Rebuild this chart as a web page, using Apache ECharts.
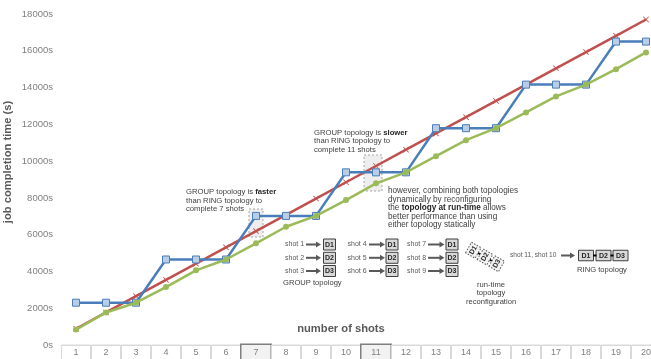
<!DOCTYPE html>
<html>
<head>
<meta charset="utf-8">
<script src="https://cdn.jsdelivr.net/npm/echarts@6/dist/echarts.min.js"></script>
<style>
  html, body { margin: 0; padding: 0; background: #fff; }
  #chart { width: 651px; height: 359px; }
</style>
</head>
<body>
<div id="chart"></div>
<script>
// shots on the x axis, two of them boxed
const shots = ['1', '2', '3', '4', '5', '6', '7', '8', '9', '10', '11', '12', '13', '14', '15', '16', '17', '18', '19', '20']
const boxedShots = ['7', '11']
// job completion time (s)
const groupTimes = [2300, 2300, 2300, 4650, 4650, 4650, 7020, 7020, 7020, 9390, 9390, 9390, 11790, 11790, 11790, 14160, 14160, 14160, 16500, 16500]
const ringTimes = [885, 1770, 2655, 3540, 4425, 5310, 6195, 7080, 7965, 8850, 9735, 10620, 11505, 12390, 13275, 14160, 15045, 15930, 16815, 17700]
const mixedTimes = [840, 1770, 2300, 3150, 4060, 4650, 5530, 6430, 7020, 7880, 8790, 9390, 10270, 11140, 11790, 12650, 13520, 14160, 15000, 15910]

const FONT = 'Liberation Sans'
const chart = echarts.init(document.getElementById('chart'))

function txt(x, y, text, extra) {
  return {
    type: 'text', x: x, y: y, z: 10,
    style: Object.assign({
      text: text, fill: '#404040', fontFamily: FONT, fontSize: 9,
      lineHeight: 9, align: 'left', verticalAlign: 'middle'
    }, extra || {})
  }
}

function node(cx, cy, name, w, h) {
  w = w || 12
  h = h || 11
  return [
    { type: 'rect', z: 10, shape: { x: cx - w / 2, y: cy - h / 2, width: w, height: h },
      style: { fill: '#d9d9d9', stroke: '#3f3f3f', lineWidth: 1 } },
    txt(cx, cy + 0.5, name, { align: 'center', fontSize: 7, fontWeight: 'bold', fill: '#262626' })
  ]
}

function arrow(x1, x2, y) {
  return [
    { type: 'line', z: 10, shape: { x1: x1, y1: y, x2: x2 - 4, y2: y },
      style: { stroke: '#595959', lineWidth: 2 } },
    { type: 'polygon', z: 10, shape: { points: [[x2 - 5, y - 3], [x2, y], [x2 - 5, y + 3]] },
      style: { fill: '#595959' } }
  ]
}

let graphics = []

// dashed highlight boxes
graphics.push({ type: 'rect', z: 1, shape: { x: 249, y: 209, width: 14, height: 28 },
  style: { fill: '#eeeeee', stroke: '#a6a6a6', lineWidth: 1, lineDash: [2, 2] } })
graphics.push({ type: 'rect', z: 1, shape: { x: 364, y: 155, width: 18, height: 36 },
  style: { fill: '#eeeeee', stroke: '#a6a6a6', lineWidth: 1, lineDash: [2, 2] } })

// annotations
const boldSmall = { b: { fontWeight: 'bold', fontFamily: FONT, fontSize: 7.7, fill: '#262626' } }
const boldMid = { b: { fontWeight: 'bold', fontFamily: FONT, fontSize: 8.2, fill: '#262626' } }
graphics.push(txt(186, 200.5, 'GROUP topology is {b|faster}\nthan RING topology to\ncomplete 7 shots', { rich: boldSmall, fontSize: 7.7, lineHeight: 8.8 }))
graphics.push(txt(314, 141, 'GROUP topology is {b|slower}\nthan RING topology to\ncomplete 11 shots', { rich: boldSmall, fontSize: 7.7, lineHeight: 8.6 }))
graphics.push(txt(388, 208, 'however, combining both topologies\ndynamically by reconfiguring\nthe {b|topology at run-time} allows\nbetter performance than using\neither topology statically', { rich: boldMid, fontSize: 8.2, lineHeight: 8.6 }))

// GROUP topology columns
const rowsY = [244.5, 257.8, 271]
const cols = [
  { tx: 285, a1: 306, a2: 321, bx: 329.5, shots: ['shot 1', 'shot 2', 'shot 3'] },
  { tx: 347.5, a1: 369, a2: 385, bx: 392, shots: ['shot 4', 'shot 5', 'shot 6'] },
  { tx: 407, a1: 428, a2: 444.5, bx: 452, shots: ['shot 7', 'shot 8', 'shot 9'] }
]
cols.forEach(function (c) {
  c.shots.forEach(function (s, i) {
    graphics.push(txt(c.tx, rowsY[i], s, { fontSize: 7, fill: '#595959' }))
    graphics = graphics.concat(arrow(c.a1, c.a2, rowsY[i]))
    graphics = graphics.concat(node(c.bx, rowsY[i], 'D' + (i + 1)))
  })
})
graphics.push(txt(283, 282.5, 'GROUP topology', { fontSize: 7.6, fill: '#404040' }))

// run-time reconfiguration (rotated chain)
const rotKids = []
;['D1', 'D2', 'D3'].forEach(function (d, i) {
  const cy = -13.5 + i * 13.5
  rotKids.push({ type: 'rect', shape: { x: -6, y: cy - 5.5, width: 12, height: 11 },
    style: { fill: '#f2f2f2', stroke: '#595959', lineWidth: 1, lineDash: [1.5, 1.5] } })
  rotKids.push({ type: 'text', x: 0, y: cy,
    style: { text: d, fontFamily: FONT, fontSize: 7, fontWeight: 'bold', fill: '#262626', align: 'center', verticalAlign: 'middle' } })
  if (i < 2) {
    rotKids.push({ type: 'rect', shape: { x: -1, y: cy + 5.5, width: 2, height: 2.5 }, style: { fill: '#000' } })
  }
})
graphics.push({ type: 'group', x: 485, y: 257, rotation: Math.PI / 3, z: 10, children: rotKids })
graphics.push(txt(491, 293.3, 'run-time\ntopology\nreconfiguration', { align: 'center', fontSize: 7.6, lineHeight: 8.6, fill: '#404040' }))

// RING topology
graphics.push(txt(510, 255.5, 'shot 11, shot 10', { fontSize: 6.6, fill: '#595959' }))
graphics = graphics.concat(arrow(561, 575, 255.5))
graphics = graphics.concat(node(586, 255.5, 'D1', 15, 10.5))
graphics = graphics.concat(node(603.5, 255.5, 'D2', 15, 10.5))
graphics = graphics.concat(node(620.5, 255.5, 'D3', 15, 10.5))
graphics.push({ type: 'rect', z: 11, shape: { x: 593, y: 254.5, width: 3.5, height: 2 }, style: { fill: '#000' } })
graphics.push({ type: 'rect', z: 11, shape: { x: 610.5, y: 254.5, width: 3, height: 2 }, style: { fill: '#000' } })
graphics.push(txt(602, 270, 'RING topology', { align: 'center', fontSize: 7.6, fill: '#404040' }))

// axis titles
graphics.push(txt(341, 328.5, 'number of shots', { align: 'center', fontSize: 11.2, fontWeight: 'bold', fill: '#595959' }))
graphics.push({ type: 'text', x: 7.5, y: 162, rotation: Math.PI / 2, z: 10,
  style: { text: 'job completion time (s)', fontFamily: FONT, fontSize: 11.2, fontWeight: 'bold',
    fill: '#595959', align: 'center', verticalAlign: 'middle' } })

const cell = { width: 29, height: 15, lineHeight: 15, align: 'center', verticalAlign: 'middle',
  borderColor: '#d9d9d9', borderWidth: 1, color: '#7f7f7f', fontFamily: FONT, fontSize: 9 }

chart.setOption({
  animation: false,
  backgroundColor: '#fff',
  grid: { left: 61, width: 600, top: 14, bottom: 14, containLabel: false, outerBoundsMode: 'none' },
  xAxis: {
    type: 'category',
    data: shots,
    boundaryGap: true,
    axisLine: { show: true, lineStyle: { color: '#d9d9d9' } },
    axisTick: { show: false },
    axisLabel: {
      margin: 0,
      interval: 0,
      formatter: function (v) {
        return boxedShots.indexOf(v) >= 0 ? '{h|' + v + '}' : '{n|' + v + '}'
      },
      rich: {
        n: cell,
        h: Object.assign({}, cell, { borderColor: '#7f7f7f', borderWidth: 1.5, backgroundColor: '#f2f2f2' })
      }
    },
    splitLine: { show: false }
  },
  yAxis: {
    type: 'value',
    min: 0,
    max: 18000,
    interval: 2000,
    axisLine: { show: false },
    axisTick: { show: false },
    splitLine: { show: false },
    axisLabel: {
      formatter: function (v) { return v + 's' },
      margin: 8, color: '#7f7f7f', fontFamily: FONT, fontSize: 9.5
    }
  },
  series: [
    {
      name: 'RING',
      type: 'line',
      data: ringTimes,
      z: 3,
      symbol: 'path://M0,1L1,0L5,4L9,0L10,1L6,5L10,9L9,10L5,6L1,10L0,9L4,5Z',
      symbolSize: 6,
      lineStyle: { color: '#c0504d', width: 2.5 },
      itemStyle: { color: '#c0504d' }
    },
    {
      name: 'GROUP',
      type: 'line',
      data: groupTimes,
      z: 4,
      symbol: 'rect',
      symbolSize: 7,
      lineStyle: { color: '#4a7ebb', width: 2.5 },
      itemStyle: { color: '#b9cde5', borderColor: '#4a7ebb', borderWidth: 1 }
    },
    {
      name: 'combined',
      type: 'line',
      data: mixedTimes,
      z: 5,
      symbol: 'circle',
      symbolSize: 6,
      lineStyle: { color: '#9bbb59', width: 2.5 },
      itemStyle: { color: '#9bbb59' }
    }
  ],
  graphic: graphics
})
</script>
</body>
</html>
